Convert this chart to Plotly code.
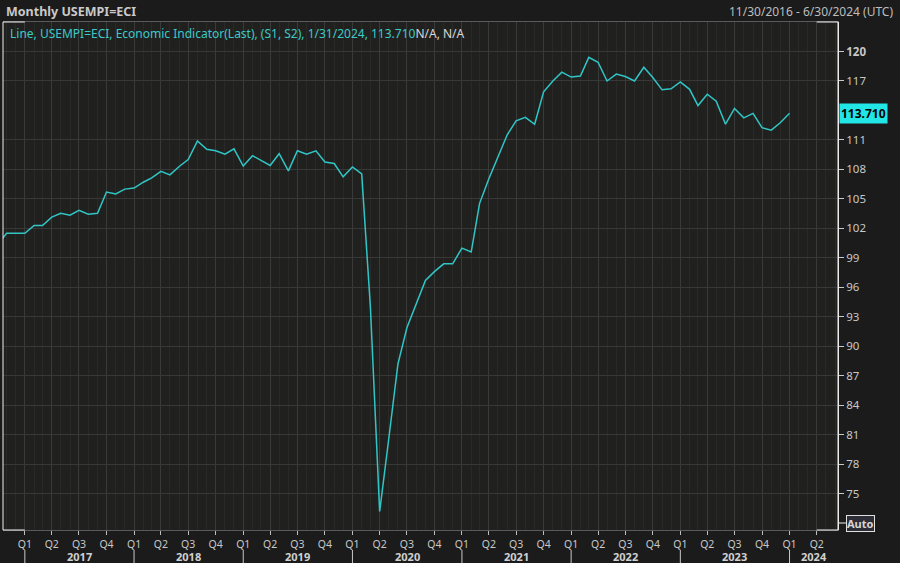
import pandas as pd
import plotly.graph_objects as go

# ---------------- data ----------------
months = pd.date_range("2016-10-01", "2024-01-01", freq="MS")
values = [
    100.3, 101.5, 101.5,
    101.5, 102.3, 102.3, 103.15, 103.55, 103.35, 103.85, 103.45, 103.55, 105.7, 105.5, 106.0,
    106.1, 106.7, 107.15, 107.8, 107.45, 108.3, 109.0, 110.9, 110.05, 109.9, 109.55, 110.1,
    108.35, 109.4, 108.9, 108.4, 109.6, 107.85, 109.9, 109.55, 109.9, 108.75, 108.6, 107.25,
    108.25, 107.55, 94.0, 73.2, 80.5, 88.2, 91.9, 94.35, 96.7, 97.6, 98.4, 98.4,
    100.0, 99.6, 104.55, 107.05, 109.2, 111.5, 112.95, 113.3, 112.6, 115.9, 117.0, 117.9,
    117.4, 117.5, 119.4, 118.9, 117.0, 117.7, 117.45, 117.0, 118.4, 117.35, 116.1, 116.2,
    116.9, 116.15, 114.5, 115.65, 114.95, 112.6, 114.2, 113.25, 113.7, 112.25, 112.0, 112.75,
    113.71,
]
years = [2017, 2018, 2019, 2020, 2021, 2022, 2023, 2024]
quarter_labels = ["Q1", "Q2", "Q3", "Q4"]
y_ticks = [75, 78, 81, 84, 87, 90, 93, 96, 99, 102, 105, 108, 111, 117, 120]
last_value_text = "113.710"
title_text = "Monthly USEMPI=ECI"
range_text = "11/30/2016 - 6/30/2024 (UTC)"
legend_main = "Line, USEMPI=ECI, Economic Indicator(Last), (S1, S2), 1/31/2024, 113.710"
legend_tail = "N/A, N/A"

X_START = "2016-10-20"
X_END = "2024-06-11"

# quarter ticks
q_vals, q_text = [], []
for yr in years:
    for qi, lab in enumerate(quarter_labels):
        d = pd.Timestamp(year=yr, month=1 + 3 * qi, day=1)
        if d <= pd.Timestamp(X_END):
            q_vals.append(d)
            q_text.append(lab)

LINE = "#31c6c6"
TXT = "#c8c8c8"
FONT = "Noto Sans"

fig = go.Figure()
fig.add_trace(go.Scatter(
    x=months, y=values, mode="lines",
    line=dict(color=LINE, width=1.5),
    showlegend=False, hoverinfo="x+y",
))

fig.update_layout(
    width=900, height=563,
    margin=dict(l=3, r=62, t=22, b=33),
    paper_bgcolor="#1b1b1b",
    plot_bgcolor="#20211f",
    font=dict(family=FONT, size=11, color=TXT),
    xaxis=dict(
        range=[X_START, X_END],
        tickmode="array", tickvals=q_vals, ticktext=q_text,
        ticks="outside", ticklen=4, tickcolor="#bdbdbd", tickwidth=1,
        tickfont=dict(size=10.5, color=TXT, family=FONT),
        showgrid=True, gridcolor="#3a3a3a", gridwidth=1,
        minor=dict(tickmode="linear", tick0="2016-11-01", dtick="M1",
                   showgrid=True, gridcolor="#292a28", gridwidth=1, ticklen=0),
        showline=True, linecolor="#5a5a5a", linewidth=1, mirror=True,
        zeroline=False, fixedrange=True,
    ),
    yaxis=dict(
        side="right",
        range=[71.32, 123.0],
        tickmode="array", tickvals=y_ticks,
        ticktext=[("<b>%d</b>" % v) if v == 120 else str(v) for v in y_ticks],
        ticks="outside", ticklen=5, tickcolor="#c8c8c8",
        tickfont=dict(size=11.5, color=TXT, family=FONT),
        showgrid=True, gridcolor="#383838", gridwidth=1,
        showline=True, linecolor="#e8e8e8", linewidth=1,
        zeroline=False, fixedrange=True,
    ),
)

ann = []
ann.append(dict(xref="paper", yref="paper", x=0, y=1, xanchor="left", yanchor="middle",
                xshift=1, yshift=11, showarrow=False,
                text="<b>%s</b>" % title_text, font=dict(size=12.5, color="#c9c9c9", family=FONT)))
ann.append(dict(xref="paper", yref="paper", x=1, y=1, xanchor="right", yanchor="middle",
                xshift=57, yshift=11, showarrow=False,
                text=range_text, font=dict(size=12, color="#bdbdbd", family=FONT)))
ann.append(dict(xref="paper", yref="paper", x=0, y=1, xanchor="left", yanchor="middle",
                xshift=5, yshift=-11, showarrow=False,
                text='<span style="color:%s">%s</span><span style="color:#d8d8d8">%s</span>'
                     % ("#3cc9c9", legend_main, legend_tail),
                font=dict(size=12, family=FONT)))
ann.append(dict(xref="paper", yref="y", x=1, y=values[-1], xanchor="left", yanchor="middle",
                xshift=1, showarrow=False, bgcolor="#22e6e6", borderpad=1,
                text="<b>%s</b>" % last_value_text, font=dict(size=12, color="#000000", family=FONT)))
ann.append(dict(xref="paper", yref="paper", x=1, y=0, xanchor="left", yanchor="middle",
                xshift=8, yshift=7, showarrow=False, bgcolor="#2c2d36",
                bordercolor="#e0e0e0", borderwidth=1, borderpad=0,
                text="<b>Auto</b>", font=dict(size=11, color="#d6d6d6", family=FONT)))

x_end = pd.Timestamp(X_END)
for yr in years:
    a = pd.Timestamp(year=yr, month=1, day=1)
    b = min(pd.Timestamp(year=yr + 1, month=1, day=1), x_end)
    mid = a + (b - a) / 2
    ann.append(dict(xref="x", yref="paper", x=mid, y=0, xanchor="center", yanchor="middle",
                    yshift=-26, showarrow=False, text="<b>%d</b>" % yr,
                    font=dict(size=11, color="#d0d0d0", family=FONT)))
fig.update_layout(annotations=ann)

shapes = []
W = dict(color="#f0f0f0", width=1)
# white frame pieces
shapes.append(dict(type="line", xref="paper", yref="paper", x0=0, x1=0, y0=0, y1=1, line=W))
shapes.append(dict(type="line", xref="paper", yref="paper", x0=1, x1=1, y0=0, y1=1, line=W))
first_q, last_q = q_vals[0], q_vals[-1]
for yy in (0, 1):
    shapes.append(dict(type="line", xref="x", yref="paper", x0=X_START, x1=first_q, y0=yy, y1=yy, line=W))
    shapes.append(dict(type="line", xref="x", yref="paper", x0=last_q, x1=X_END, y0=yy, y1=yy, line=W))
# connector to Auto box
shapes.append(dict(type="line", xref="paper", yref="paper", x0=1, x1=1 + 8 / 835, y0=7 / 508, y1=7 / 508, line=W))
# year separators
for yr in years:
    d = pd.Timestamp(year=yr, month=1, day=1)
    shapes.append(dict(type="line", xref="x", yref="paper", x0=d, x1=d, y0=-20 / 508, y1=-34 / 508,
                       line=dict(color="#c8c8c8", width=1)))
fig.update_layout(shapes=shapes)

fig.write_html(
    "out.html",
    config={"displayModeBar": False},
    post_script="document.body.style.margin='0';document.body.style.padding='0';",
)
